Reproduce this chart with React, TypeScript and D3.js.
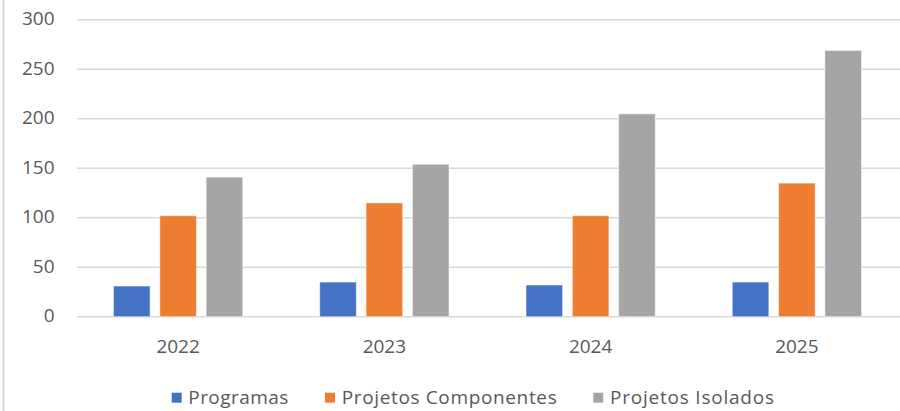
import React from "react";
import * as d3 from "d3";

const categories = ["2022", "2023", "2024", "2025"];
const seriesNames = ["Programas", "Projetos Componentes", "Projetos Isolados"];
const programas = [31, 35, 32, 35];
const componentes = [102, 115, 102, 135];
const isolados = [141, 154, 205, 269];
const yTicks = [0, 50, 100, 150, 200, 250, 300];
const colors = ["#4472C4", "#ED7D31", "#A5A5A5"];

const W = 900;
const H = 411;
const FONT = "'Open Sans', 'Noto Sans', sans-serif";
const TEXT = "#595959";

export default function App() {
  const values = [programas, componentes, isolados];
  const x = d3.scaleBand<string>().domain(categories).range([75, 900]).padding(0);
  const groupW = 139;
  const inner = d3
    .scaleBand<string>()
    .domain(seriesNames)
    .range([0, groupW])
    .paddingInner(0.21)
    .paddingOuter(0.105);
  const y = d3.scaleLinear().domain([0, 300]).range([316.7, 19.8]);
  const groupOffset = (x.bandwidth() - groupW) / 2;

  const legendItems = [
    { sq: 171.7, tx: 188.3, len: 100 },
    { sq: 325, tx: 341.7, len: 215 },
    { sq: 593.3, tx: 610, len: 164 },
  ];

  return (
    <svg
      width={W}
      height={H}
      style={{ position: "absolute", left: 0, top: 0, background: "#fff" }}
      fontFamily={FONT}
    >
      <rect x={0} y={0} width={W} height={H} fill="#fff" />
      <line x1={3.5} x2={3.5} y1={0} y2={H} stroke="#d9d9d9" strokeWidth={2} />
      {yTicks.map((t) => (
        <g key={t}>
          <line
            x1={77}
            x2={900}
            y1={y(t)}
            y2={y(t)}
            stroke="#d9d9d9"
            strokeWidth={1.6}
          />
          <text
            x={54.5}
            y={y(t) + 5.5}
            textAnchor="end"
            fontSize={19}
            fill={TEXT}
          >
            {t}
          </text>
        </g>
      ))}
      {categories.map((c, ci) => (
        <g key={c}>
          {seriesNames.map((s, si) => {
            const v = values[si][ci];
            const bx = (x(c) as number) + groupOffset + (inner(s) as number);
            return (
              <rect
                key={s}
                x={bx}
                y={y(v)}
                width={inner.bandwidth()}
                height={y(0) - y(v)}
                fill={colors[si]}
                stroke="#ffffff"
                strokeOpacity={0.5}
                strokeWidth={1}
              />
            );
          })}
          <text
            x={(x(c) as number) + x.bandwidth() / 2}
            y={353.3}
            textAnchor="middle"
            fontSize={19}
            fill={TEXT}
          >
            {c}
          </text>
        </g>
      ))}
      {seriesNames.map((s, i) => (
        <g key={s}>
          <rect x={legendItems[i].sq} y={392.7} width={10} height={10} fill={colors[i]} />
          <text
            x={legendItems[i].tx}
            y={404}
            fontSize={19}
            fill={TEXT}
            textLength={legendItems[i].len}
            lengthAdjust="spacing"
          >
            {s}
          </text>
        </g>
      ))}
    </svg>
  );
}
